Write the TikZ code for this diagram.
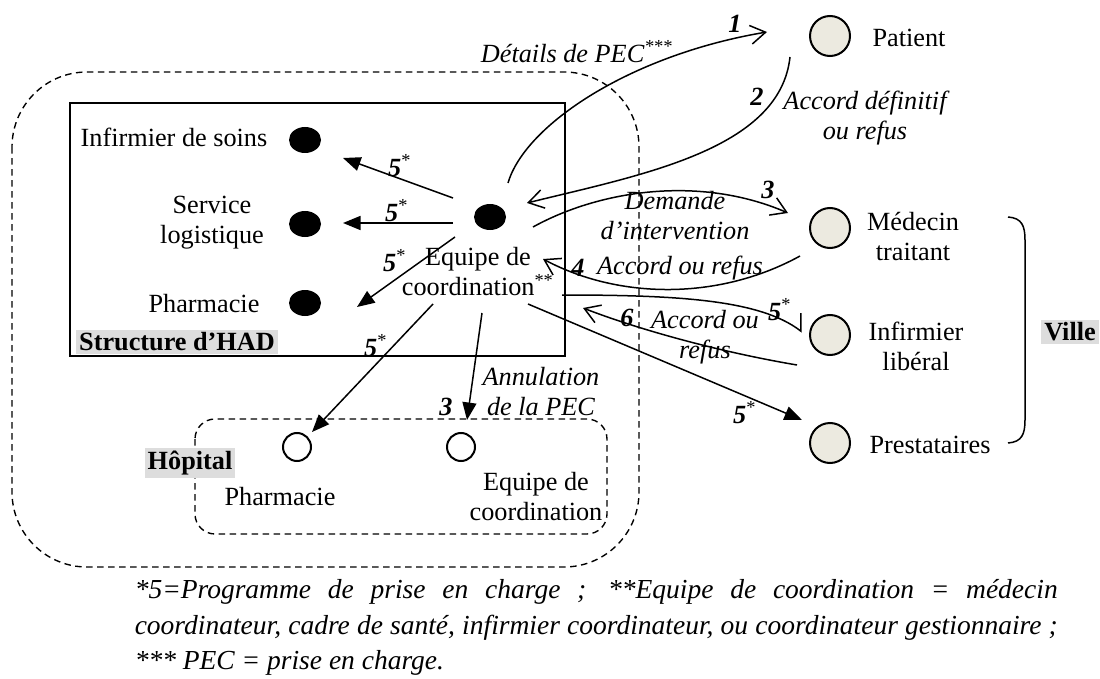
\documentclass[tikz,border=0pt]{standalone}
\usepackage{fontspec}
\setmainfont{Liberation Serif}
\usetikzlibrary{arrows.meta,shapes.geometric}
\definecolor{actorfill}{RGB}{236,234,224}
\definecolor{tagbg}{RGB}{221,221,221}
\begin{document}
\begin{tikzpicture}[x=0.4pt,y=-0.4pt,
  line width=0.6pt,
  txt/.style={font=\fontsize{10.5}{12}\selectfont, inner sep=0pt, align=center},
  it/.style={txt, font=\fontsize{10.5}{12}\selectfont\itshape},
  num/.style={txt, font=\fontsize{10.5}{12}\selectfont\bfseries\itshape},
  tag/.style={font=\fontsize{10.5}{12}\selectfont\bfseries, fill=tagbg, inner sep=1.2pt},
  dot/.style={ellipse, fill=black, minimum width=12.8pt, minimum height=10.4pt, inner sep=0pt},
  actor/.style={circle, draw, line width=0.8pt, fill=actorfill, minimum size=16pt, inner sep=0pt},
  hosp/.style={circle, draw, line width=0.8pt, fill=white, minimum size=11.2pt, inner sep=0pt},
  solidtip/.style={-{Triangle[length=7pt,width=5.6pt]}},
  opentip/.style={-{Straight Barb[length=6pt,width=7.5pt]}},
  halftip/.style={-{Straight Barb[left,length=4.3pt,width=11.5pt]}},
  zone/.style={dashed, dash pattern=on 2.6pt off 1.8pt, line width=0.55pt}
]
\useasboundingbox (0,0) rectangle (1100,679);

% zones
\draw[zone, rounded corners=30pt] (12,72) rectangle (639,567);
\draw (70,103) rectangle (565,356);
\draw[zone, rounded corners=8pt] (195,419) rectangle (607,534);

% HAD members
\node[dot] (dinf) at (305,140) {};
\node[dot] (dserv) at (305,224) {};
\node[dot] (dpha) at (305,303) {};
\node[dot] (deq) at (490,217) {};
\node[txt] at (174,137) {Infirmier de soins};
\node[txt] at (212,223) {Service\\logistique};
\node[txt] at (204,304) {Pharmacie};
\node[txt] at (478,272) {Equipe de\\coordination\textsuperscript{**}};
\node[tag] at (177,342) {Structure d’HAD};

% hospital
\node[hosp] (hpha) at (297,447) {};
\node[hosp] (heq) at (461,447) {};
\node[tag] at (190,463) {Hôpital};
\node[txt] at (280,497) {Pharmacie};
\node[txt] at (536,497) {Equipe de\\coordination};

% city actors
\node[actor] (pat) at (830,36) {};
\node[actor] (med) at (830,228) {};
\node[actor] (inf) at (830,335) {};
\node[actor] (pre) at (830,443) {};
\node[txt] at (909,38) {Patient};
\node[txt] at (913,237) {Médecin\\traitant};
\node[txt] at (916,346) {Infirmier\\libéral};
\node[txt] at (930,445) {Prestataires};
\draw (1008,217) .. controls (1022,218) and (1025,226) .. (1025,240)
  -- (1025,420) .. controls (1025,434) and (1022,442) .. (1008,443);
\node[tag] at (1070,332) {Ville};

% care programme (5)
\draw[solidtip] ([shift={(-37,-19)}]deq.center) -- ([shift={(38,18)}]dinf.center);
\draw[solidtip] ([shift={(-37,6)}]deq.center) -- ([shift={(38,-1)}]dserv.center);
\draw[solidtip] ([shift={(-35,20)}]deq.center) -- ([shift={(52,4)}]dpha.center);
\draw[solidtip] ([shift={(-57,87)}]deq.center) -- ([shift={(15,-15)}]hpha.center);
\draw[solidtip] ([shift={(38,87)}]deq.center) -- ([shift={(-28,-23)}]pre.center);
\draw[halftip] ([shift={(72,78)}]deq.center) .. controls (680,295) and (760,300) .. ([shift={(-28,-3)}]inf.center);
\node[num] at (400,166) {5\textsuperscript{\normalfont *}};
\node[num] at (397,211) {5\textsuperscript{\normalfont *}};
\node[num] at (395,261) {5\textsuperscript{\normalfont *}};
\node[num] at (376,346) {5\textsuperscript{\normalfont *}};
\node[num] at (780,310) {5\textsuperscript{\normalfont *}};
\node[num] at (745,413) {5\textsuperscript{\normalfont *}};

% cancellation (3)
\draw[solidtip] ([shift={(-8,96)}]deq.center) -- ([shift={(6,-27)}]heq.center);
\node[num] at (446,407) {3};
\node[it] at (541,392) {Annulation\\de la PEC};

% exchanges with the patient
\draw[opentip] ([shift={(18,-34)}]deq.center) .. controls (525,125) and (630,55) .. ([shift={(-63,-4)}]pat.center);
\node[num] at (735,24) {1};
\node[it] at (577,52) {Détails de PEC\textsuperscript{***}};
\draw[opentip] ([shift={(-40,21)}]pat.center) .. controls (780,150) and (640,175) .. ([shift={(37,-14)}]deq.center);
\node[num] at (757,97) {2};
\node[it] at (865,118) {Accord définitif\\ou refus};

% exchanges with the city
\draw[opentip] ([shift={(43,10)}]deq.center) .. controls (600,190) and (700,175) .. ([shift={(-42,-15)}]med.center);
\node[num] at (768,190) {3};
\node[it] at (675,216) {Demande\\d’intervention};
\draw[opentip] ([shift={(-30,28)}]med.center) .. controls (720,300) and (620,300) .. ([shift={(53,42)}]deq.center);
\node[num] at (578,268) {4};
\node[it] at (680,268) {Accord ou refus};
\draw[opentip] ([shift={(-33,30)}]inf.center) .. controls (720,352) and (640,330) .. ([shift={(93,91)}]deq.center);
\node[num] at (627,318) {6};
\node[it] at (705,337) {Accord ou\\refus};

% notes
\begin{scope}[every node/.style={anchor=base west, inner sep=0pt, font=\fontsize{11}{13}\selectfont\itshape}]
\node at (134,598) {\makebox[369.2pt][s]{*5=Programme de prise en charge ; **Equipe de coordination = médecin}};
\node at (134,634) {\makebox[369.2pt][s]{coordinateur, cadre de santé, infirmier coordinateur, ou coordinateur gestionnaire ;}};
\node at (134,669) {*** PEC = prise en charge.};
\end{scope}
\end{tikzpicture}
\end{document}
